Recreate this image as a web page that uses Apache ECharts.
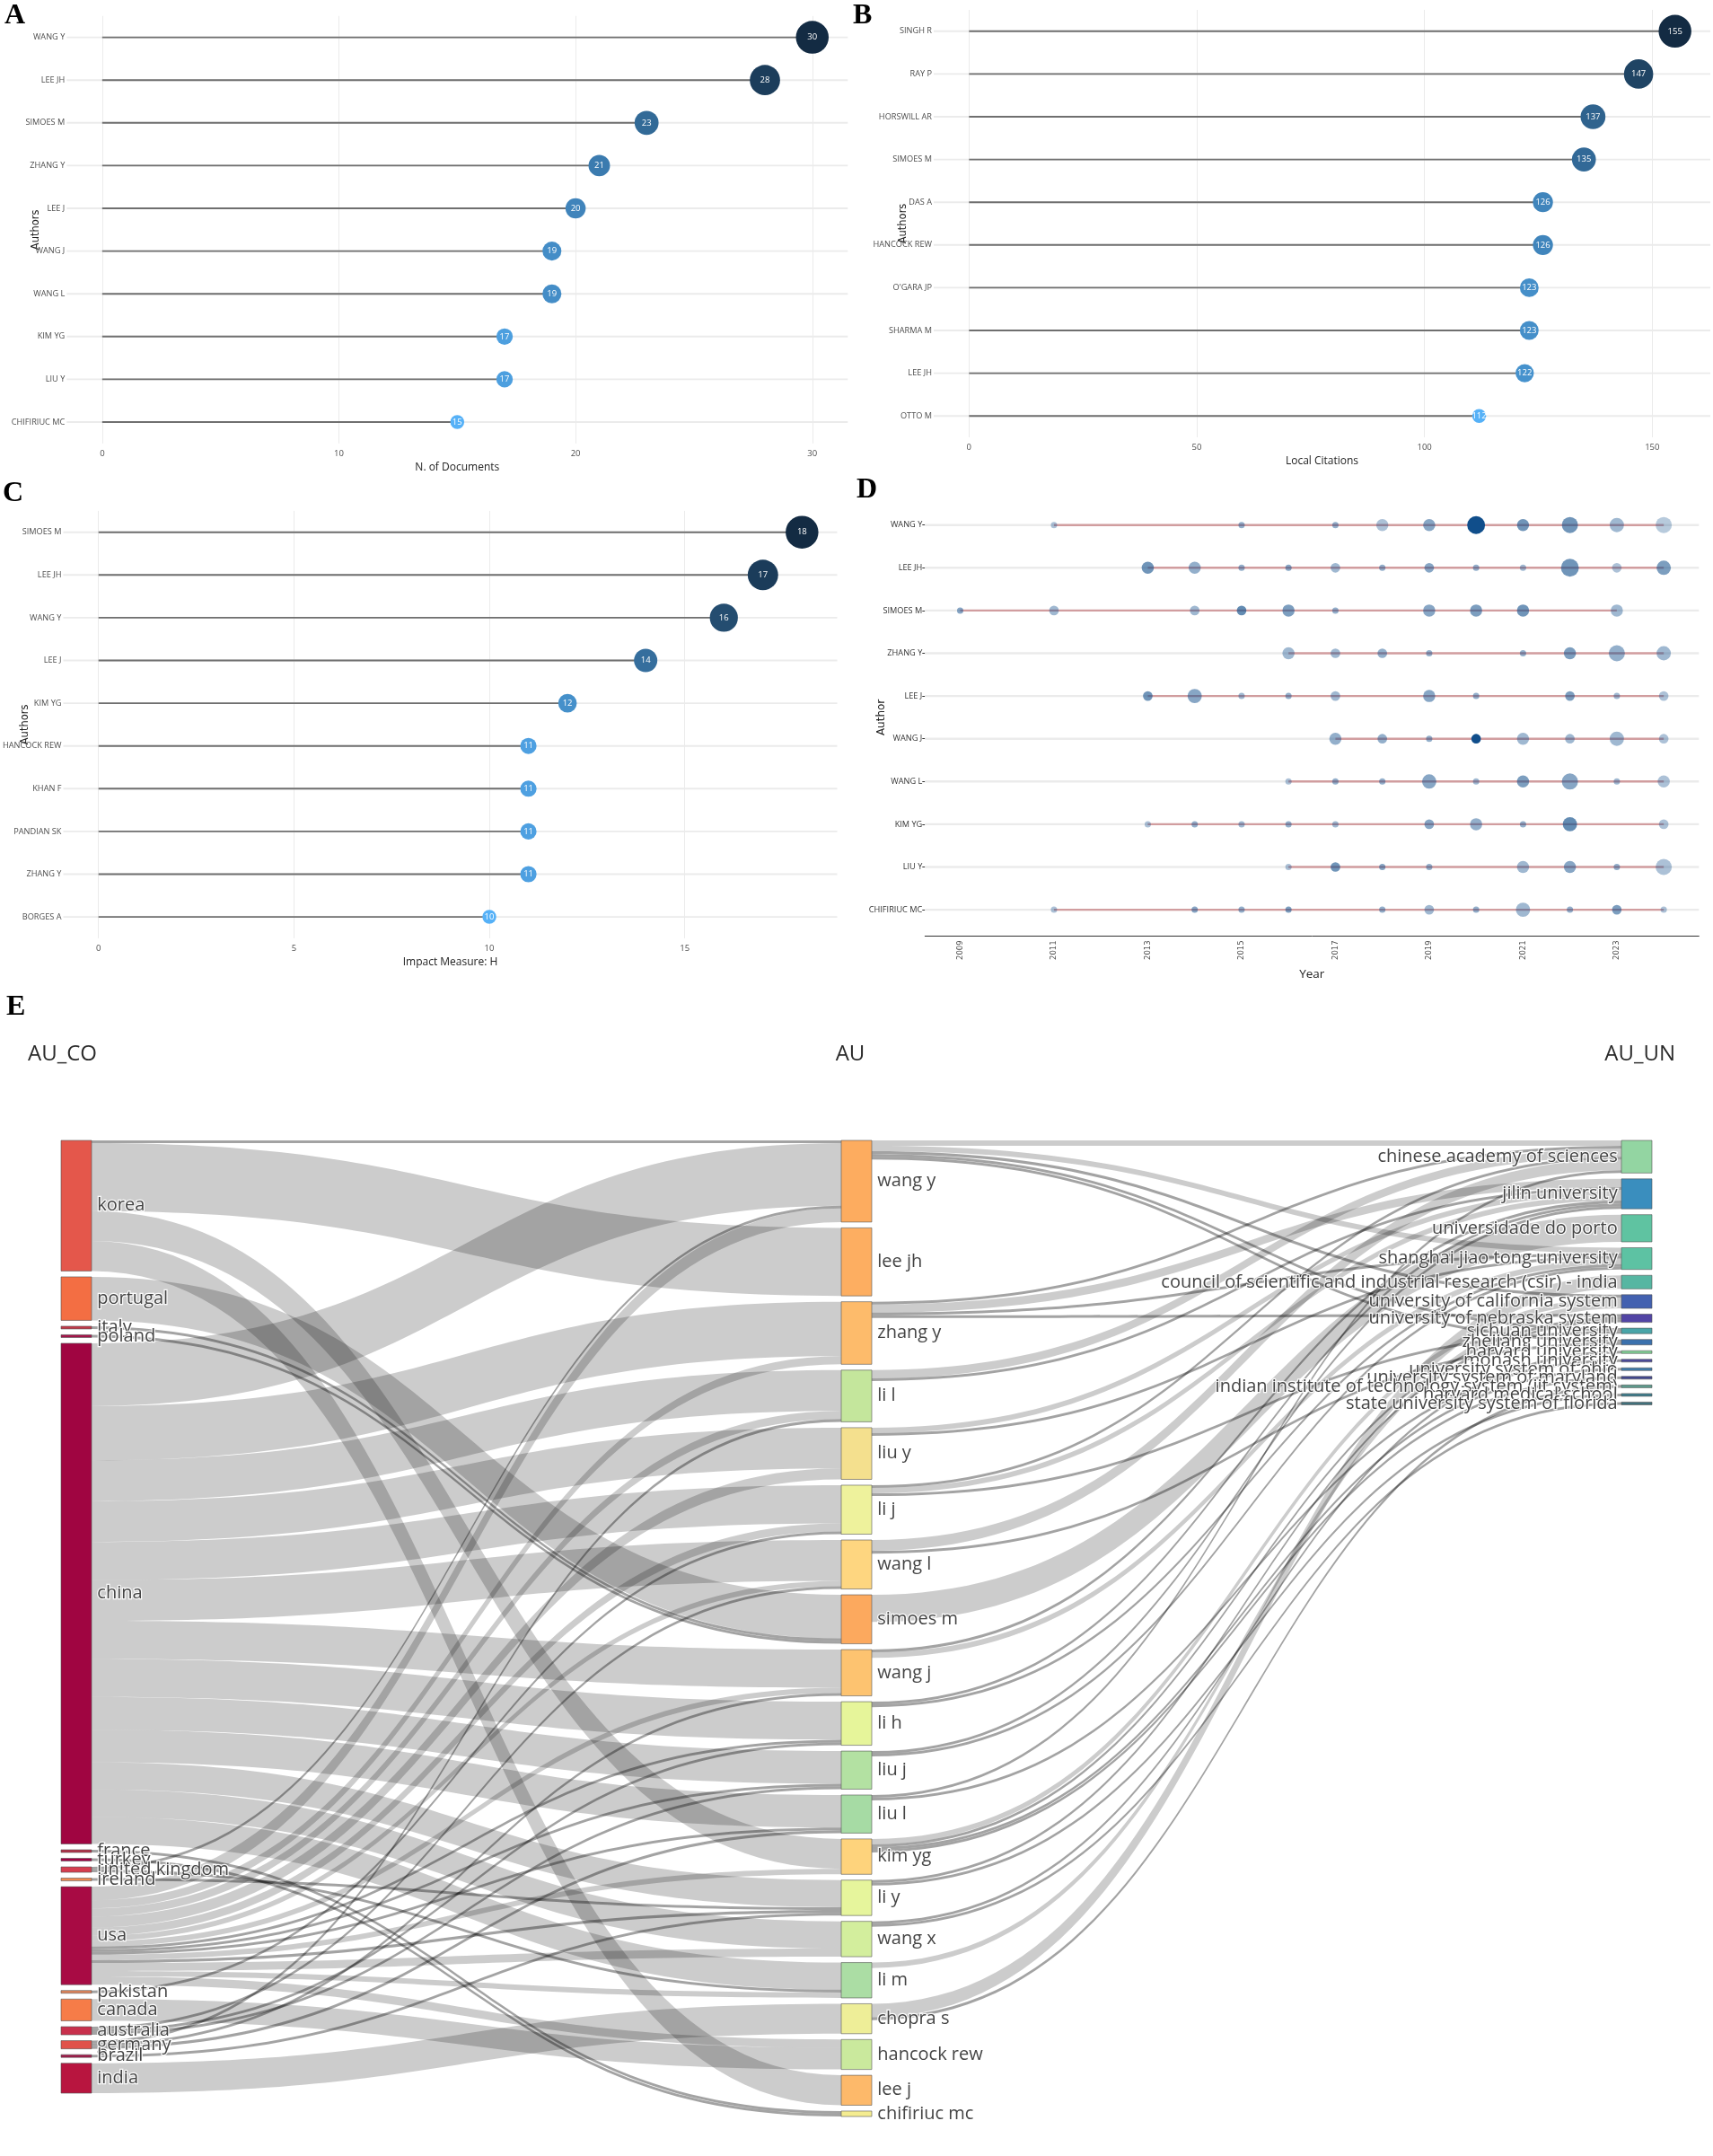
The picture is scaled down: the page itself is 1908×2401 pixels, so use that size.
<!DOCTYPE html>
<html><head><meta charset="utf-8">
<script src="https://cdn.jsdelivr.net/npm/echarts@6/dist/echarts.min.js"></script>
<style>html,body{margin:0;padding:0;background:#fff}#c{width:1908px;height:2401px}</style>
</head><body><div id="c"></div>
<script>
// ---------- Panel A: most relevant authors ----------
const authorsA = ['WANG Y','LEE JH','SIMOES M','ZHANG Y','LEE J','WANG J','WANG L','KIM YG','LIU Y','CHIFIRIUC MC'];
const docsA = [30,28,23,21,20,19,19,17,17,15];
const ticksA = [0,10,20,30];
// ---------- Panel B: most local cited authors ----------
const authorsB = ['SINGH R','RAY P','HORSWILL AR','SIMOES M','DAS A','HANCOCK REW',"O'GARA JP",'SHARMA M','LEE JH','OTTO M'];
const citesB = [155,147,137,135,126,126,123,123,122,112];
const ticksB = [0,50,100,150];
// ---------- Panel C: author local impact (H index) ----------
const authorsC = ['SIMOES M','LEE JH','WANG Y','LEE J','KIM YG','HANCOCK REW','KHAN F','PANDIAN SK','ZHANG Y','BORGES A'];
const hC = [18,17,16,14,12,11,11,11,11,10];
const ticksC = [0,5,10,15];
// ---------- Panel D: authors' production over time ----------
const authorsD = ['WANG Y','LEE JH','SIMOES M','ZHANG Y','LEE J','WANG J','WANG L','KIM YG','LIU Y','CHIFIRIUC MC'];
const yearTicksD = [2009,2011,2013,2015,2017,2019,2021,2023];
// each entry: [year, articles, TC-per-year opacity]
const prodWangY = [[2011,1,.35],[2015,1,.45],[2017,1,.45],[2018,3,.35],[2019,3,.5],[2020,6,1],[2021,3,.6],[2022,5,.6],[2023,4,.4],[2024,5,.3]];
const prodLeeJH = [[2013,3,.6],[2014,3,.45],[2015,1,.45],[2016,1,.5],[2017,2,.4],[2018,1,.45],[2019,2,.5],[2020,1,.45],[2021,1,.4],[2022,6,.6],[2023,2,.35],[2024,4,.55]];
const prodSimoesM = [[2009,1,.5],[2011,2,.4],[2014,2,.4],[2015,2,.65],[2016,3,.55],[2017,1,.45],[2019,3,.5],[2020,3,.55],[2021,3,.6],[2023,3,.4]];
const prodZhangY = [[2016,3,.4],[2017,2,.4],[2018,2,.45],[2019,1,.45],[2021,1,.45],[2022,3,.55],[2023,5,.45],[2024,4,.4]];
const prodLeeJ = [[2013,2,.6],[2014,4,.5],[2015,1,.4],[2016,1,.45],[2017,2,.4],[2019,3,.5],[2020,1,.45],[2022,2,.55],[2023,1,.4],[2024,2,.35]];
const prodWangJ = [[2017,3,.45],[2018,2,.45],[2019,1,.45],[2020,2,1],[2021,3,.4],[2022,2,.4],[2023,4,.4],[2024,2,.35]];
const prodWangL = [[2016,1,.35],[2017,1,.45],[2018,1,.45],[2019,4,.5],[2020,1,.4],[2021,3,.55],[2022,5,.5],[2023,1,.4],[2024,3,.35]];
const prodKimYG = [[2013,1,.35],[2014,1,.45],[2015,1,.4],[2016,1,.45],[2017,1,.4],[2019,2,.5],[2020,3,.45],[2021,1,.45],[2022,4,.65],[2024,2,.35]];
const prodLiuY = [[2016,1,.35],[2017,2,.6],[2018,1,.5],[2019,1,.45],[2021,3,.4],[2022,3,.5],[2023,1,.45],[2024,5,.35]];
const prodChifiriucMC = [[2011,1,.35],[2014,1,.5],[2015,1,.45],[2016,1,.55],[2018,1,.45],[2019,2,.4],[2020,1,.45],[2021,4,.4],[2022,1,.45],[2023,2,.55],[2024,1,.35]];
const prodD = [prodWangY,prodLeeJH,prodSimoesM,prodZhangY,prodLeeJ,prodWangJ,prodWangL,prodKimYG,prodLiuY,prodChifiriucMC];
// ---------- Panel E: three-field plot ----------
const countries = ['korea','portugal','italy','poland','china','france','turkey','united kingdom','ireland','usa','pakistan','canada','australia','germany','brazil','india'];
const countryColors = ['#e4574b','#f36e43','#c23b4b','#a3164a','#a00541','#b23048','#9e0142','#d53e4f','#ef8a52','#a80b44','#e0845a','#f67c48','#c8304c','#e0524a','#a01848','#b8153f'];
const auNodes = ['wang y','lee jh','zhang y','li l','liu y','li j','wang l','simoes m','wang j','li h','liu j','liu l','kim yg','li y','wang x','li m','chopra s','hancock rew','lee j','chifiriuc mc'];
const auColors = ['#fdac5f','#fdae61','#fdbb6b','#c4e69c','#f4e08e','#eef29c','#fed680','#fca95e','#fdc370','#e6f59a','#b3e1a2','#a6dba4','#fed37c','#e6f59c','#d3ee9d','#abdda4','#eeee98','#cae99d','#fdb96a','#f4ec90'];
const institutions = ['chinese academy of sciences','jilin university','universidade do porto','shanghai jiao tong university','council of scientific and industrial research (csir) - india','university of california system','university of nebraska system','sichuan university','zhejiang university','harvard university','monash university','university system of ohio','university system of maryland','indian institute of technology system (iit system)','harvard medical school','state university system of florida'];
const instColors = ['#93d5a2','#3a8ebe','#5fc3a1','#5dc2a3','#56b6a2','#4361b0','#5245a5','#49a5a8','#3b71ad','#80cf95','#4b4a9c','#3e7bab','#40468f','#5e9c8e','#3f7d8d','#40707c'];
const coAuLinks = [
 ['korea','wang y',1],['korea','lee jh',25],['korea','kim yg',11],['korea','lee j',11],
 ['portugal','simoes m',16],['italy','simoes m',1],['poland','simoes m',1],
 ['china','wang y',23],['china','zhang y',20],['china','li l',15],['china','liu y',15],['china','li j',14],['china','wang l',15],['china','wang j',14],['china','li h',14],['china','liu j',12],['china','liu l',12],['china','li y',10],['china','wang x',10],['china','li m',10],
 ['france','chifiriuc mc',1],['turkey','chifiriuc mc',1],
 ['united kingdom','wang y',1],['united kingdom','li m',1],
 ['ireland','li y',1],
 ['usa','wang y',5],['usa','zhang y',3],['usa','li l',3],['usa','liu y',4],['usa','li j',3],['usa','wang l',2],['usa','wang j',2],['usa','li h',1],['usa','liu j',1],['usa','liu l',1],['usa','kim yg',2],['usa','li y',1],['usa','wang x',3],['usa','li m',2],['usa','hancock rew',3],
 ['pakistan','li j',1],['canada','hancock rew',8],
 ['australia','wang l',1],['australia','liu j',1],['australia','li h',1],
 ['germany','liu l',1],['germany','wang j',1],['germany','li l',1],
 ['brazil','li y',1],['india','chopra s',11]
];
const auUnLinks = [
 ['wang y','chinese academy of sciences',2],['wang y','shanghai jiao tong university',2],['wang y','sichuan university',1],['wang y','zhejiang university',1],['wang y','university of california system',1],
 ['zhang y','chinese academy of sciences',1],['zhang y','jilin university',3],['zhang y','shanghai jiao tong university',1],['zhang y','university of nebraska system',1],
 ['li l','chinese academy of sciences',3],['li l','jilin university',1],
 ['liu y','jilin university',2],['liu y','shanghai jiao tong university',1],
 ['li j','chinese academy of sciences',1],['li j','jilin university',2],['li j','sichuan university',1],
 ['wang l','chinese academy of sciences',4],['wang l','zhejiang university',1],
 ['simoes m','universidade do porto',10],
 ['wang j','jilin university',1],['wang j','shanghai jiao tong university',2],
 ['li h','jilin university',1],['li h','shanghai jiao tong university',1],
 ['liu j','jilin university',1],['liu j','shanghai jiao tong university',1],
 ['liu l','chinese academy of sciences',1],['liu l','monash university',1],
 ['kim yg','university of california system',2],['kim yg','university of nebraska system',1],['kim yg','university system of ohio',1],['kim yg','university system of maryland',1],
 ['li y','university of nebraska system',1],['li y','harvard medical school',1],
 ['wang x','harvard university',1],['wang x','state university system of florida',1],
 ['li m','university of california system',2],
 ['chopra s','council of scientific and industrial research (csir) - india',5],['chopra s','indian institute of technology system (iit system)',1]
];

// ---------- build ----------
const NARROW = "'Liberation Sans Narrow','Open Sans',sans-serif";
function grad(t){const a=[0x56,0xB1,0xF7],b=[0x13,0x2B,0x43];return 'rgb('+a.map((c,i)=>Math.round(c+(b[i]-c)*t)).join(',')+')';}
const grids=[],xAxes=[],yAxes=[],series=[];
function lolli(names, vals, g, xmin, xmax, ticks, xname, yNameGap){
  const k = grids.length;
  grids.push(g);
  xAxes.push({type:'value',gridIndex:k,min:xmin,max:xmax,
    axisLabel:{customValues:ticks,fontSize:9.5,color:'#4d4d4d',fontFamily:NARROW,margin:6,formatter:v=>String(v)},
    axisTick:{show:false,customValues:ticks},axisLine:{show:false},
    splitLine:{show:true,lineStyle:{color:'#ebebeb',width:1}},
    name:xname,nameLocation:'middle',nameGap:21,nameMoveOverlap:false,
    nameTextStyle:{fontSize:12,color:'#222',fontFamily:NARROW}});
  yAxes.push({type:'category',gridIndex:k,data:names,inverse:true,
    axisLine:{show:false},axisTick:{show:false},splitLine:{show:false},
    axisLabel:{fontSize:9.2,color:'#4d4d4d',fontFamily:NARROW,margin:2},
    name:'Authors',nameLocation:'middle',nameRotate:90,nameGap:yNameGap,nameMoveOverlap:false,
    nameTextStyle:{fontSize:11.5,color:'#222',fontFamily:'DejaVu Sans'}});
  const mn=Math.min(...vals),mx=Math.max(...vals);
  series.push({type:'bar',xAxisIndex:k,yAxisIndex:k,data:vals,barWidth:1.9,silent:true,
    itemStyle:{color:'#6f6f6f'},showBackground:true,backgroundStyle:{color:'#ebebeb'}});
  series.push({type:'scatter',xAxisIndex:k,yAxisIndex:k,silent:true,
    data:vals.map((v,i)=>[v,names[i]]),
    symbolSize:d=>15.5+(d[0]-mn)/(mx-mn)*21,
    itemStyle:{opacity:1,color:p=>grad((p.value[0]-mn)/(mx-mn))},
    label:{show:true,position:'inside',formatter:p=>String(p.value[0]),color:'#fff',fontSize:9.5,fontFamily:NARROW}});
}
lolli(authorsA, docsA, {left:74.3,top:17.8,width:870,height:476}, -1.5, 31.5, ticksA, 'N. of Documents', 28);
lolli(authorsB, citesB, {left:1040,top:11,width:865,height:476}, -7.75, 162.75, ticksB, 'Local Citations', 28);
lolli(authorsC, hC, {left:69,top:568.9,width:863.5,height:476}, -0.9, 18.9, ticksC, 'Impact Measure: H', 36);

// Panel D
const kD = grids.length;
const xminD = 2008.25, xmaxD = 2024.75;
grids.push({left:1030.3,top:560.9,width:862,height:476});
xAxes.push({type:'value',gridIndex:kD,min:xminD,max:xmaxD,offset:5.5,
  axisLabel:{customValues:yearTicksD,rotate:90,fontSize:8.5,color:'#4d4d4d',fontFamily:'DejaVu Sans',margin:5,formatter:v=>String(v)},
  axisTick:{show:false,customValues:yearTicksD},axisLine:{show:true,lineStyle:{color:'#333',width:1}},
  splitLine:{show:false},
  name:'Year',nameLocation:'middle',nameGap:36,nameMoveOverlap:false,
  nameTextStyle:{fontSize:13.5,color:'#222',fontFamily:NARROW}});
yAxes.push({type:'category',gridIndex:kD,data:authorsD,inverse:true,
  axisLine:{show:false},axisTick:{show:true,alignWithLabel:true,length:3,lineStyle:{color:'#333'}},splitLine:{show:false},
  axisLabel:{fontSize:9.2,color:'#333',fontFamily:NARROW,margin:3},
  name:'Author',nameLocation:'middle',nameRotate:90,nameGap:42,nameMoveOverlap:false,
  nameTextStyle:{fontSize:12,color:'#222',fontFamily:'DejaVu Sans'}});
const firstD = prodD.map(p=>Math.min(...p.map(q=>q[0])));
const lastD = prodD.map(p=>Math.max(...p.map(q=>q[0])));
series.push({type:'bar',xAxisIndex:kD,yAxisIndex:kD,stack:'span',data:firstD,barWidth:2.4,silent:true,
  itemStyle:{color:'rgba(0,0,0,0)'},showBackground:true,backgroundStyle:{color:'#ebebeb'}});
series.push({type:'bar',xAxisIndex:kD,yAxisIndex:kD,stack:'span',data:lastD.map((l,i)=>l-firstD[i]),barWidth:2.4,silent:true,
  itemStyle:{color:'rgba(170,40,45,0.4)'}});
const ptsD=[];
prodD.forEach((p,i)=>p.forEach(q=>ptsD.push({value:[q[0],authorsD[i],q[1]],itemStyle:{opacity:q[2]}})));
series.push({type:'scatter',xAxisIndex:kD,yAxisIndex:kD,silent:true,data:ptsD,
  symbolSize:d=>-1.9+8.9*Math.sqrt(d[2]),itemStyle:{color:'#104E8B'}});

// Panel E sankey
const nodes=[];
countries.forEach((n,i)=>nodes.push({name:n,depth:0,itemStyle:{color:countryColors[i]}}));
auNodes.forEach((n,i)=>nodes.push({name:n,depth:1,itemStyle:{color:auColors[i]}}));
institutions.forEach((n,i)=>nodes.push({name:n,depth:2,itemStyle:{color:instColors[i]},label:{position:'left',distance:4}}));
// single-paper links are drawn as thin darker strands, as in the original plot
const links=coAuLinks.concat(auUnLinks).map(l=>({source:l[0],target:l[1],value:l[2],
  lineStyle:l[2]===1?{opacity:0.36}:undefined}));
series.push({type:'sankey',left:68,top:1270,width:1772,height:1087,nodeWidth:34,nodeGap:6.5,
  layoutIterations:0,draggable:false,silent:true,emphasis:{disabled:true},
  data:nodes,links:links,
  itemStyle:{borderColor:'#555',borderWidth:0.6},
  lineStyle:{color:'#000',opacity:0.2,curveness:0.5},
  label:{show:true,position:'right',distance:6,fontSize:20,fontFamily:'Open Sans',color:'#444',
    textBorderColor:'rgba(255,255,255,0.9)',textBorderWidth:2.5}});

const SERIF='bold 32px "Liberation Serif","Times New Roman",serif';
function txt(t,x,y,font,align,fill){return {type:'text',x:x,y:y,silent:true,z:100,
  style:{text:t,font:font,fill:fill||'#000',textAlign:align||'left',align:align||'left',textVerticalAlign:'middle',verticalAlign:'middle'}};}
const graphic=[
  txt('A',5,18,SERIF),txt('B',950,18,SERIF),txt('C',3,550,SERIF),txt('D',954,546,SERIF),txt('E',7,1122,SERIF),
  txt('AU_CO',31,1174,'24px "Open Sans",sans-serif','left','#2a2a2a'),
  txt('AU',947,1174,'24px "Open Sans",sans-serif','center','#2a2a2a'),
  txt('AU_UN',1866,1174,'24px "Open Sans",sans-serif','right','#2a2a2a')
];

const chart=echarts.init(document.getElementById('c'),null,{width:1908,height:2401});
chart.setOption({animation:false,backgroundColor:'#fff',textStyle:{fontFamily:'Open Sans'},
  grid:grids,xAxis:xAxes,yAxis:yAxes,series:series,graphic:graphic});
</script></body></html>
